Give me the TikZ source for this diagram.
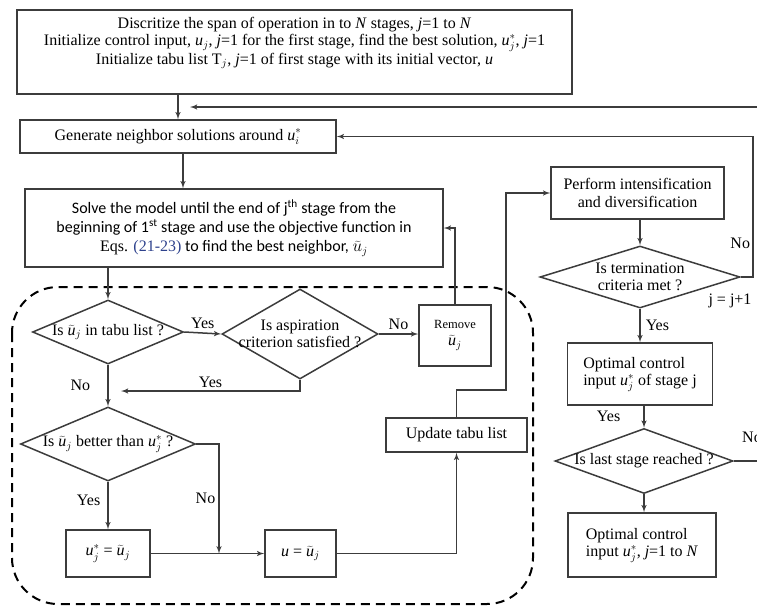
\documentclass[tikz,border=0pt]{standalone}
\usepackage{fontspec}
\setmainfont{Liberation Serif}
\newfontfamily\calibri{Carlito}
\usetikzlibrary{arrows,shapes.geometric,positioning}
\definecolor{linegray}{RGB}{60,60,60}
\definecolor{eqblue}{RGB}{45,65,140}
\newcommand{\ut}{$\widetilde{\mbox{\itshape u}}$}
\tikzstyle{block}=[rectangle,draw=linegray,line width=1.5pt,inner sep=2pt,align=center]
\tikzstyle{decision}=[diamond,draw=linegray,line width=1.5pt,inner sep=0pt]
\tikzstyle{flow}=[->,>=latex',draw=linegray,line width=1.5pt]
\tikzstyle{tag}=[inner sep=1pt]
\tikzstyle{tabuframe}=[draw=black,line width=2pt,dash pattern=on 9pt off 6pt,rounded corners=46pt]

\begin{document}
\begin{tikzpicture}[x=1pt,y=-1pt,font=\fontsize{16}{17.5}\selectfont]
  \clip (0,0) rectangle (757,608);

  % initialisation and neighbourhood search
  \node[block,minimum width=555pt,minimum height=84pt,
        label={[align=center,yshift=9pt]center:Discritize the span of operation in to \textit{N} stages, \textit{j}=1 to \textit{N}\\
          Initialize control input, \textit{u}$_j$, \textit{j}=1 for the first stage, find the best solution, \textit{u}$_j^*$, \textit{j}=1\\
          Initialize tabu list T$_j$, \textit{j}=1 of first stage with its initial vector, \textit{u}}]
        (init) at (294.5,52) {};
  \node[block,minimum width=316pt,minimum height=33pt] (gen) at (178,136.5)
        {Generate neighbor solutions around \textit{u}$_i^*$};
  \node[block,minimum width=418pt,minimum height=78pt,
        font=\calibri\fontsize{16}{19}\selectfont] (solve) at (234,228)
        {Solve the model until the end of j\textsuperscript{th} stage from the\\
         beginning of 1\textsuperscript{st} stage and use the objective function in\\
         {\rmfamily Eqs. \textcolor{eqblue}{(21-23)}} to find the best neighbor, $\widetilde{u}_j$};

  % tabu loop
  \draw[tabuframe] (12,287) rectangle (533,604);
  \node[decision,minimum width=151pt,minimum height=64pt,
        label={[tag]center:Is \ut$_j$ in tabu list ?}] (intabu) at (108,332) {};
  \node[decision,minimum width=156pt,minimum height=90pt,
        label={[tag,align=center]center:Is aspiration\\criterion satisfied ?}] (aspir) at (300,334) {};
  \node[block,minimum width=72pt,minimum height=61pt] (remove) at (455,335.5)
        {{\fontsize{12.5}{16}\selectfont Remove}\\ \ut$_j$};
  \node[decision,minimum width=175pt,minimum height=74pt,
        label={[tag]center:Is \ut$_j$ better than \textit{u}$_j^*$ ?}] (better) at (108,444) {};
  \node[block,minimum width=84pt,minimum height=47pt] (best) at (108,553.5)
        {\textit{u}$_j^*$ = \ut$_j$};
  \node[block,minimum width=71pt,minimum height=47pt] (current) at (300.5,553.5)
        {\textit{u} = \ut$_j$};
  \node[block,minimum width=141pt,minimum height=34pt] (update) at (456.5,435)
        {Update tabu list};

  % stage control
  \node[block,minimum width=173pt,minimum height=52pt] (perform) at (637.5,193)
        {Perform intensification\\and diversification};
  \node[decision,minimum width=200pt,minimum height=62pt,
        label={[tag,align=center]center:Is termination\\criteria met ?}] (term) at (640,277) {};
  \node[block,minimum width=145pt,minimum height=62pt] (stagebest) at (640,374)
        {\begin{tabular}{@{}l@{}}Optimal control\\input \textit{u}$_j^*$ of stage j\end{tabular}};
  \node[decision,minimum width=178pt,minimum height=65pt,
        label={[tag]center:Is last stage reached ?}] (last) at (644,461) {};
  \node[block,minimum width=148pt,minimum height=64pt] (final) at (642,545)
        {\begin{tabular}{@{}l@{}}Optimal control\\input \textit{u}$_j^*$, \textit{j}=1 to \textit{N}\end{tabular}};

  \coordinate (fbin) at (757,107);
  \coordinate (fbtip) at (190,107);
  \coordinate (aspback) at (121,391);
  \coordinate (nojoin) at (219,553.5);
  \coordinate (upturn) at (506,390);
  \coordinate (lastout) at (757,461);

  \draw[flow] (init.south -| gen.north) -- (gen.north);
  \draw[flow] (fbin) -- (fbtip);
  \draw[flow] (gen.south -| 183,0) -- (solve.north -| 183,0);
  \draw[flow] (solve.south -| intabu.north) -- (intabu.north);
  \draw[flow] (intabu.east) -- (aspir.west) node[tag,midway,above=3pt] (yes1) {Yes};
  \draw[flow] (aspir.east) -- (aspir.east -| remove.west) node[tag,midway,above=3pt] (no1) {No};
  \draw[flow] (aspir.south) |- (aspback) node[tag,pos=0.75,above=2pt] (yes2) {Yes};
  \draw[flow] (remove.north) |- (solve.east);
  \draw[flow] (intabu.south) -- (better.north) node[tag,pos=0.5,left=16pt] (no2) {No};
  \draw[flow] (better.south) -- (best.north) node[tag,pos=0.4,left=6pt] (yes3) {Yes};
  \draw[flow] (better.east) -| (nojoin) node[tag,pos=0.75,left=2pt] (no3) {No};
  \draw[flow] (best.east) -- (current.west);
  \draw[flow] (current.east) -| (update.south);
  \draw[flow] (update.north) |- (upturn) |- (perform.west);
  \draw[flow] (perform.south -| term.north) -- (term.north);
  \draw[flow] (term.east) -- ++(12,0) |- (gen.east) node[tag,pos=0.12,left=1pt] (no4) {No};
  \node[tag] (incr) at (730,301) {j = j+1};
  \draw[flow] (term.south) -- (stagebest.north) node[tag,midway,right=4pt] (yes4) {Yes};
  \draw[flow] (stagebest.south -| last.north) -- (last.north) node[tag,midway,left=22pt] (yes5) {Yes};
  \draw[flow] (last.south) -- (last.south |- final.north);
  \draw[draw=linegray,line width=1.5pt] (last.east) -- (lastout);
  \node[tag] (no5) at (752,437) {No};
\end{tikzpicture}
\end{document}
